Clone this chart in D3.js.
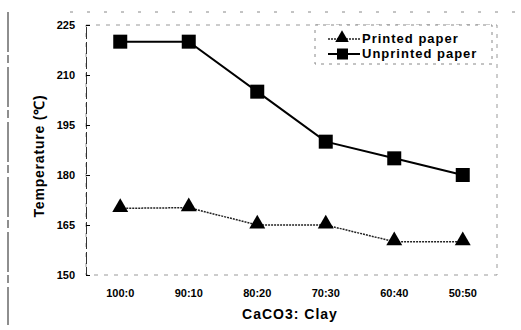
<!DOCTYPE html>
<html>
<head>
<meta charset="utf-8">
<script src="https://cdn.jsdelivr.net/npm/d3@7"></script>
<style>
  body { margin: 0; background: #fff; }
  text { font-family: "Liberation Sans", Arial, sans-serif; font-weight: bold; }
</style>
</head>
<body>
<div id="chart"></div>
<script>
// ratios and measured temperatures
const ratios = ["100:0", "90:10", "80:20", "70:30", "60:40", "50:50"];
const printed = [170, 170.2, 165, 165, 160, 160];
const unprinted = [220, 220, 205, 190, 185, 180];
const yTicks = [150, 165, 180, 195, 210, 225];

const width = 521, height = 330;
const margin = {top: 25, right: 24, bottom: 55, left: 86};

const svg = d3.select("#chart")
    .append("svg")
    .attr("width", width)
    .attr("height", height);

const x = d3.scaleBand()
    .domain(ratios)
    .range([margin.left, width - margin.right]);

const y = d3.scaleLinear()
    .domain([150, 225])
    .range([height - margin.bottom, margin.top]);

// scanned frame bits
svg.append("line")
    .attr("x1", 8).attr("x2", 8)
    .attr("y1", 12).attr("y2", 325)
    .attr("stroke", "#444")
    .attr("stroke-width", 1.2)
    .attr("stroke-dasharray", "40,3,8,4");
svg.append("line")
    .attr("x1", 70).attr("x2", 515)
    .attr("y1", 12).attr("y2", 12)
    .attr("stroke", "#888")
    .attr("stroke-dasharray", "3,14");

// plot area border (dashed)
svg.append("rect")
    .attr("x", margin.left)
    .attr("y", margin.top)
    .attr("width", width - margin.left - margin.right)
    .attr("height", height - margin.top - margin.bottom)
    .attr("fill", "none")
    .attr("stroke", "#999")
    .attr("stroke-dasharray", "4,6");

// y axis, ticks point inward
const yAxis = svg.append("g")
    .attr("transform", `translate(${margin.left},0)`)
    .call(d3.axisLeft(y).tickValues(yTicks).tickSize(-4).tickPadding(11));
yAxis.select(".domain").attr("stroke", "#333").attr("stroke-dasharray", "12,3");
yAxis.selectAll("text").style("font-size", "11px").attr("fill", "#000");

// x axis labels
svg.append("g")
    .selectAll("text")
    .data(ratios)
    .enter()
    .append("text")
    .attr("x", d => x(d) + x.bandwidth() / 2)
    .attr("y", height - margin.bottom + 22)
    .attr("text-anchor", "middle")
    .style("font-size", "11px")
    .text(d => d);

svg.append("text")
    .attr("x", 290)
    .attr("y", 319)
    .attr("text-anchor", "middle")
    .style("font-size", "14px")
    .style("letter-spacing", "1px")
    .text("CaCO3: Clay");

svg.append("text")
    .attr("transform", "rotate(-90)")
    .attr("x", -156)
    .attr("y", 44)
    .attr("text-anchor", "middle")
    .style("font-size", "14px")
    .style("letter-spacing", "0.8px")
    .text("Temperature (\u2103)");

const cx = d => x(d) + x.bandwidth() / 2;
const line = d3.line()
    .x((d, i) => cx(ratios[i]))
    .y(d => y(d));

// printed line
svg.append("path")
    .datum(printed)
    .attr("fill", "none")
    .attr("stroke", "#222")
    .attr("stroke-width", 1.5)
    .attr("stroke-dasharray", "2,1")
    .attr("d", line);

// unprinted line
svg.append("path")
    .datum(unprinted)
    .attr("fill", "none")
    .attr("stroke", "#000")
    .attr("stroke-width", 2)
    .attr("d", line);

const tri = d3.symbol().type(d3.symbolTriangle).size(110);
svg.selectAll(".tri")
    .data(printed)
    .enter()
    .append("path")
    .attr("transform", (d, i) => `translate(${cx(ratios[i])},${y(d) - 1})`)
    .attr("d", tri)
    .attr("fill", "#000");

const sq = 14;
svg.selectAll(".sq")
    .data(unprinted)
    .enter()
    .append("rect")
    .attr("x", (d, i) => cx(ratios[i]) - sq / 2)
    .attr("y", d => y(d) - sq / 2)
    .attr("width", sq)
    .attr("height", sq)
    .attr("fill", "#000");

// legend
const legend = svg.append("g").attr("transform", "translate(315,25)");
legend.append("rect")
    .attr("width", 177)
    .attr("height", 39)
    .attr("fill", "#fff")
    .attr("stroke", "#888")
    .attr("stroke-dasharray", "3,5");

legend.append("line")
    .attr("x1", 13).attr("x2", 45).attr("y1", 14).attr("y2", 14)
    .attr("stroke", "#222").attr("stroke-width", 1.5).attr("stroke-dasharray", "2,1");
legend.append("path")
    .attr("transform", "translate(27,13)")
    .attr("d", d3.symbol().type(d3.symbolTriangle).size(80))
    .attr("fill", "#000");
legend.append("text")
    .attr("x", 47).attr("y", 18)
    .style("font-size", "13px")
    .style("letter-spacing", "1px")
    .text("Printed paper");

legend.append("line")
    .attr("x1", 13).attr("x2", 45).attr("y1", 29).attr("y2", 29)
    .attr("stroke", "#000").attr("stroke-width", 2);
legend.append("rect")
    .attr("x", 22).attr("y", 23.5).attr("width", 11).attr("height", 11)
    .attr("fill", "#000");
legend.append("text")
    .attr("x", 47).attr("y", 33)
    .style("font-size", "13px")
    .style("letter-spacing", "1px")
    .text("Unprinted paper");
</script>
</body>
</html>
